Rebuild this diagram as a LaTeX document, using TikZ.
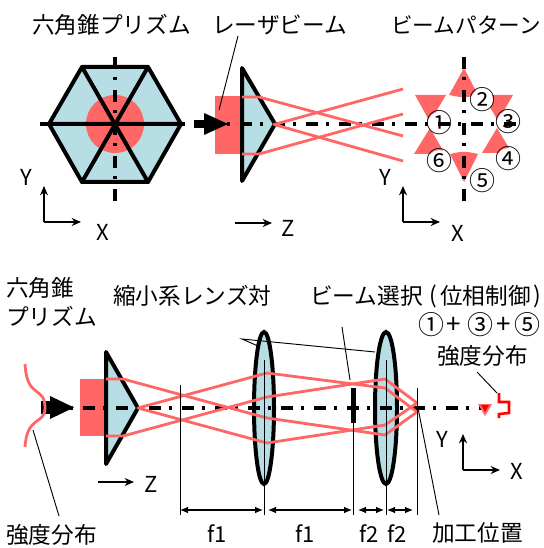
\documentclass[tikz,border=0pt]{standalone}
\usepackage{fontspec}
\setmainfont{Noto Sans CJK JP}
\usetikzlibrary{arrows.meta}
\definecolor{beam}{RGB}{255,102,102}
\definecolor{glass}{RGB}{183,222,228}
\tikzset{
 x=0.75pt,y=-0.75pt,
 lab/.style={font=\fontsize{17}{19}\selectfont,inner sep=0pt,anchor=west},
 latin/.style={font=\fontsize{16.5}{18}\selectfont,inner sep=0pt},
 heavy/.style={line width=3pt,line join=round,line cap=round},
 ray/.style={beam,line width=2.1pt,line join=round},
 axisline/.style={line width=2.5pt,dash pattern=on 9pt off 6pt on 2pt off 7.75pt},
 thin1/.style={line width=0.7pt},
 dim/.style={line width=0.8pt,{Latex[length=6pt,width=5pt]}-{Latex[length=6pt,width=5pt]}},
 frame/.style={line width=1.7pt,-{Stealth[length=7pt,width=6pt]}},
 num/.style={font=\fontsize{19.5}{21}\selectfont,inner sep=0pt},
 patch/.style={fill=beam,draw=none},
 hole/.style={fill=white,draw=none,circle,minimum size=16.5pt,inner sep=0pt},
}
\begin{document}
\begin{tikzpicture}
\useasboundingbox (0,0) rectangle (543,548);
% titles
\node[lab] (t1) at (32,25) {六角錐プリズム};
\node[lab] (t2) at (212,25) {レーザビーム};
\node[lab,font=\fontsize{16.2}{18}\selectfont] (t3) at (391,25) {ビームパターン};
% hexagon
\coordinate (hl) at (49,124); \coordinate (hr) at (181,124);
\coordinate (htl) at (82,67); \coordinate (htr) at (148,67);
\coordinate (hbl) at (82,182); \coordinate (hbr) at (148,182);
\fill[glass] (hl)--(htl)--(htr)--(hr)--(hbr)--(hbl)--cycle;
\fill[beam] (115,124) circle[radius=21.75pt];
\draw[axisline] (115,57)--(115,201);
\draw[heavy] (hl)--(htl)--(htr)--(hr)--(hbr)--(hbl)--cycle;
\draw[heavy] (hl)--(hr) (htl)--(hbr) (htr)--(hbl);
\draw[line width=2.4pt] (40,124)--(49,124) (181,124)--(185,124);
% top prism
\fill[beam] (215,96) rectangle (242,154);
\coordinate (p1) at (242,68); \coordinate (p2) at (275,124); \coordinate (p3) at (242,181);
\fill[glass] (p1)--(p2)--(p3)--cycle;
% pattern patches
\fill[patch] (464,68)--(478,95) .. controls (464,98) .. (449,95)--cycle;
\fill[patch] (483,95)--(513,95)--(498,121)--cycle;
\fill[patch] (415,95)--(446,95)--(430,122)--cycle;
\fill[patch] (414,154)--(445,154)--(430,128)--cycle;
\fill[patch] (482,153)--(512,153)--(497,128)--cycle;
\fill[patch] (450,154) .. controls (464,151) .. (478,154)--(464,182)--cycle;
\foreach \n/\x/\y in {a/439/123,b/482/100,c/508/122,d/508/159,e/482/181,f/439/161}{
 \node[hole] (h\n) at (\x,\y) {};
}
\draw[axisline] (207,124)--(517,124);
\draw[axisline] (464,57)--(464,201);
\draw[heavy] (p1)--(p2)--(p3)--cycle;
\fill (194,120) rectangle (204,128);
\fill (204,113)--(228,124)--(204,135)--cycle;
\draw[ray] (242,97)--(259,97)--(403,136);
\draw[ray] (242,154)--(259,154)--(403,114);
\draw[ray] (403,89)--(274,124.5)--(403,161);
\draw[thin1] (238,36)--(219,110);
\foreach \n/\x/\y/\t in {a/439/123/①,b/482/100/②,c/508/122/③,d/508/159/④,e/482/181/⑤,f/439/161/⑥}{
 \node[num] (n\n) at (\x,\y) {\t};
}
% axes top
\coordinate (c1) at (44,222);
\draw[frame] (c1)--(44,186);
\draw[frame] (c1)--(81,222);
\node[latin] (y1) at (26,177) {Y};
\node[latin] (x1) at (103,232) {X};
\coordinate (z1a) at (235,223); \coordinate (z1b) at (272,223);
\draw[frame] (z1a)--(z1b);
\node[latin] (z1) at (288,228) {Z};
\coordinate (c2) at (403,222);
\draw[frame] (c2)--(403,186);
\draw[frame] (c2)--(440,222);
\node[latin] (y2) at (385,177) {Y};
\node[latin] (x2) at (458,233) {X};
% lower titles
\node[lab] (b1) at (6,288) {六角錐};
\node[lab] (b2) at (6,316) {プリズム};
\node[lab] (b3) at (113,296) {縮小系レンズ対};
\node[lab] (b4) at (310,296) {ビーム選択};
\node[lab] (b4b) at (429,296) {(};
\node[lab] (b4c) at (440,296) {位相制御};
\node[lab] (b4d) at (533,296) {)};
\foreach \n/\x/\t in {a/431/①,b/454/+,c/480/③,d/504/+,e/527/⑤}{
 \node[num] (s\n) at (\x,325) {\t};
}
\node[lab] (b6) at (437,356) {強度分布};
\node[lab] (b7) at (6,535) {強度分布};
\node[lab] (b8) at (432,533) {加工位置};
% lower elements
\fill[beam] (80,379) rectangle (106,436);
\coordinate (q1) at (106,352); \coordinate (q2) at (138,408); \coordinate (q3) at (106,464);
\fill[glass] (q1)--(q2)--(q3)--cycle;
\fill[glass] (264,408) ellipse[x radius=10,y radius=76];
\fill[glass] (386,408) ellipse[x radius=11,y radius=76];
\draw[axisline] (50,408)--(483,408);
\draw[heavy] (q1)--(q2)--(q3)--cycle;
\draw[line width=3pt] (264,408) ellipse[x radius=10,y radius=76];
\draw[line width=3pt] (386,408) ellipse[x radius=11,y radius=76];
\fill (41,401) rectangle (50,414);
\fill (50,396)--(74,407.5)--(50,419)--cycle;
\draw[ray] (25,364) .. controls (27,400) and (45,385) .. (45,408) .. controls (45,425) and (27,415) .. (25,447);
% rays
\draw[ray] (106,379)--(123,379)--(267,418)--(385,435)--(417,412);
\draw[ray] (106,436)--(123,436)--(267,397)--(385,379)--(417,403);
\draw[ray] (417,403)--(385,425)--(267,443)--(138,408)--(267,373)--(385,388)--(417,412);
% beam select
\fill (350.5,388) rectangle (355.5,423);
% thin verticals
\draw[thin1] (180,385)--(180,515);
\draw[thin1] (264,360)--(264,515);
\draw[thin1] (353,423)--(353,515);
\draw[thin1] (386,360)--(386,515);
\draw[thin1] (417,388)--(417,515);
% dims
\draw[dim] (180,510)--(263,510);
\draw[dim] (268,510)--(352,510);
\draw[dim] (358,510)--(384,510);
\draw[dim] (387,510)--(413,510);
\node[latin] (f1) at (217,534) {f1};
\node[latin] (f2) at (305,534) {f1};
\node[latin] (f3) at (369,534) {f2};
\node[latin] (f4) at (397,534) {f2};
% leaders
\draw[thin1] (258,346)--(242,339)--(375,352);
\draw[thin1] (342,327)--(350,380);
\draw[thin1] (418,408)--(439,515);
\draw[thin1] (477,372)--(497,393);
\draw[thin1] (33,430)--(59,516);
% z lower
\coordinate (z2a) at (98,482); \coordinate (z2b) at (134,482);
\draw[frame] (z2a)--(z2b);
\node[latin] (z2) at (151,484) {Z};
% axes lower
\coordinate (c3) at (463,470);
\draw[frame] (c3)--(463,434);
\draw[frame] (c3)--(500,470);
\node[latin] (y3) at (442,439) {Y};
\node[latin] (x3) at (517,471) {X};
% intensity
\fill[beam] (478,404)--(492,404)--(485,416)--cycle;
\fill[red] (481,405)--(489,405)--(485,412)--cycle;
\draw[red,line width=1.9pt] (499,393)--(499,402)--(509,402)--(509,413)--(499,414)--(499,418);
\end{tikzpicture}
\end{document}
